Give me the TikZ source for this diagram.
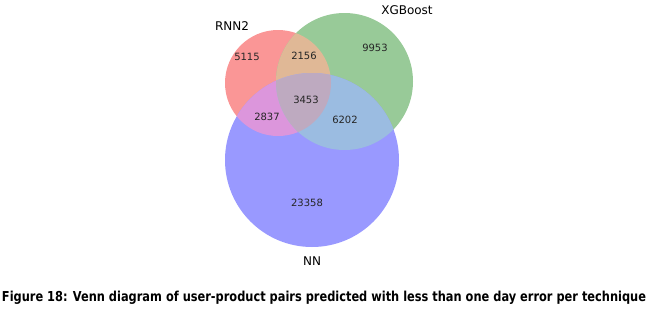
\documentclass[tikz,border=0pt]{standalone}
\usepackage{fontspec}
\setmainfont{DejaVu Sans}
\usetikzlibrary{positioning}

\definecolor{rnnfill}{RGB}{250,150,150}
\definecolor{xgbfill}{RGB}{152,202,152}
\definecolor{nnfill}{RGB}{153,153,255}
\definecolor{rnnxgbfill}{RGB}{224,184,150}
\definecolor{rnnnnfill}{RGB}{220,150,220}
\definecolor{xgbnnfill}{RGB}{155,188,225}
\definecolor{allfill}{RGB}{190,170,192}

\begin{document}
\begin{tikzpicture}[
    x=1pt,
    y=-1pt,
    zahl/.style={
        font=\fontsize{10}{12}\selectfont,
        text=black!85,
        inner sep=0pt
    },
    menge/.style={
        font=\fontsize{12}{14}\selectfont,
        text=black,
        inner sep=0pt
    },
    legende/.style={
        font=\bfseries,
        inner sep=0pt,
        anchor=base
    }
]

\useasboundingbox (0,0) rectangle (649,309);

% ============================================================
% KREISE
% ============================================================

\coordinate (crnn) at (278,83);
\coordinate (cxgb) at (344.5,81.5);
\coordinate (cnn) at (312,160);

\fill[rnnfill] (crnn) circle (53);
\fill[xgbfill] (cxgb) circle (68.5);
\fill[nnfill] (cnn) circle (87);

% ============================================================
% SCHNITTMENGEN
% ============================================================

\begin{scope}
    \clip (crnn) circle (53);
    \fill[rnnxgbfill] (cxgb) circle (68.5);
\end{scope}

\begin{scope}
    \clip (crnn) circle (53);
    \fill[rnnnnfill] (cnn) circle (87);
\end{scope}

\begin{scope}
    \clip (cxgb) circle (68.5);
    \fill[xgbnnfill] (cnn) circle (87);
\end{scope}

\begin{scope}
    \clip (crnn) circle (53);
    \clip (cxgb) circle (68.5);
    \fill[allfill] (cnn) circle (87);
\end{scope}

% ============================================================
% BESCHRIFTUNGEN
% ============================================================

\node[menge] (lrnn) at (232,26) {RNN2};
\node[menge] (lxgb) at (407,10) {XGBoost};
\node[menge] (lnn) at (312,261) {NN};

\node[zahl] (nrnn) at (247,57) {5115};
\node[zahl] (nrnnxgb) at (304,56) {2156};
\node[zahl] (nxgb) at (375,48) {9953};
\node[zahl] (nall) at (306,100) {3453};
\node[zahl] (nrnnnn) at (267,117) {2837};
\node[zahl] (nxgbnn) at (345,120) {6202};
\node[zahl] (nnn) at (307,203) {23358};

% ============================================================
% LEGENDE
% ============================================================

\node[legende] (titel) at (324,301) {\resizebox{644pt}{10.4pt}{Figure 18: Venn diagram of user-product pairs predicted with less than one day error per technique}};

\end{tikzpicture}
\end{document}
